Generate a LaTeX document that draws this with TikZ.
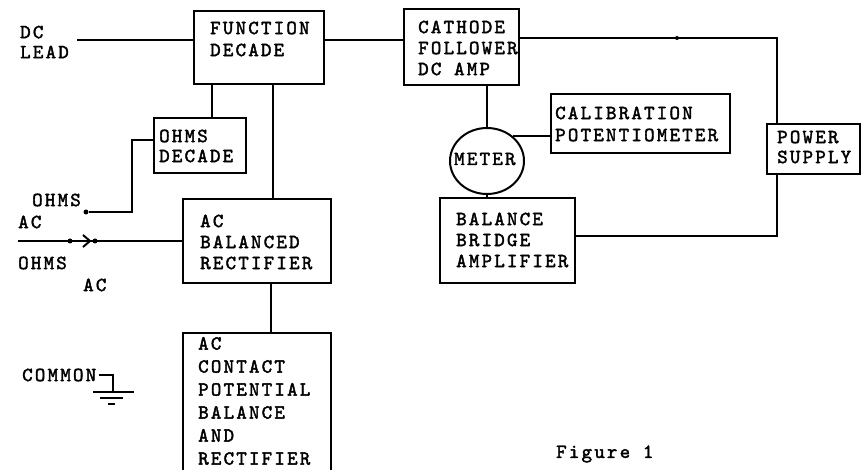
\documentclass[tikz,border=0pt]{standalone}
\usepackage{fontspec}
\usetikzlibrary{shapes.geometric,calc}
\newfontfamily\tw{lmmono10-regular.otf}[LetterSpace=11,FakeBold=2]
\begin{document}
\begin{tikzpicture}[x=1pt,y=-1pt,
  box/.style={draw, line width=2.2pt, rectangle, inner sep=0pt, anchor=north west},
  txt/.style={font={\tw\fontsize{20}{#1}\selectfont}, align=left, anchor=west, inner sep=0pt},
  txt/.default=22,
  wire/.style={line width=2pt},
  dot/.style={circle, fill, inner sep=0pt, minimum size=5pt}]
\clip (0,0) rectangle (863,470);
\fill[white] (0,0) rectangle (863,470);

% boxes
\node[box, minimum width=130, minimum height=73] (fd) at (193,10) {};
\node[box, minimum width=92, minimum height=55] (od) at (153,117) {};
\node[box, minimum width=148, minimum height=84] (acb) at (182,198) {};
\node[box, minimum width=148, minimum height=160] (acc) at (182,332) {};
\node[box, minimum width=115, minimum height=76] (cf) at (403,8) {};
\node[box, minimum width=179, minimum height=59] (cal) at (550,93) {};
\node[box, minimum width=93, minimum height=50] (ps) at (766,123) {};
\node[box, minimum width=135, minimum height=85] (bb) at (439,197) {};
\node[draw, line width=2pt, ellipse, minimum width=74, minimum height=66, inner sep=0pt] (meter) at (487,161) {};

% texts
\node[txt=20] (dct) at (20,42) {DC\\LEAD};
\node[txt] (fdt) at (210,39) {FUNCTION\\DECADE};
\node[txt=20] (odt) at (159,146) {OHMS\\DECADE};
\node[txt] (oh1) at (32,200) {OHMS};
\node[txt] (ac1) at (18,222) {AC};
\node[txt] (oh2) at (18,263) {OHMS};
\node[txt] (ac2) at (83,285) {AC};
\node[txt=21] (acbt) at (200,242) {AC\\BALANCED\\RECTIFIER};
\node[txt=23] (acct) at (198,401) {AC\\CONTACT\\POTENTIAL\\BALANCE\\AND\\RECTIFIER};
\node[txt] (com) at (22,375) {COMMON};
\node[txt=21] (cft) at (418,48) {CATHODE\\FOLLOWER\\DC AMP};
\node[txt] (calt) at (555,124) {CALIBRATION\\POTENTIOMETER};
\node[txt=20] (pst) at (777,147) {POWER\\SUPPLY};
\node[txt=21] (bbt) at (456,240) {BALANCE\\BRIDGE\\AMPLIFIER};
\node[txt] (mt) at (454,159) {METER};
\node[txt] (fig) at (556,454) {Figure 1};

% coordinates
\coordinate (dcin) at (77,40);
\coordinate (acin) at (18,241);
\coordinate (gnd) at (113,392);
\node[dot] (ohsw) at (86,212) {};
\node[dot] (sw1) at (70,241) {};
\node[dot] (sw2) at (95,241) {};
\node[dot, minimum size=4pt] (j1) at (677,38) {};

% connectors
\draw[wire] (dcin) -- (dcin -| fd.west);
\draw[wire] (fd.east |- 0,40) -- (cf.west |- 0,40);
\draw[wire] (fd.south -| 212,0) -- (od.north -| 212,0);
\draw[wire] (fd.south -| 273,0) -- (acb.north -| 273,0);
\draw[wire] (od.west |- 0,140) -| (132,212) -- (ohsw);
\draw[wire] (acin) -- (acb.west |- acin);
\draw[wire] (83,235) -- (90,241) -- (83,247);
\draw[wire] (acb.south -| 271,0) -- (acc.north -| 271,0);
\draw[wire] ($(com.east)+(3,0)$) -| (gnd);
\draw[wire] ($(gnd)+(-20,0)$) -- ($(gnd)+(21,0)$);
\draw[wire] ($(gnd)+(-13,6)$) -- ($(gnd)+(10,6)$);
\draw[wire] ($(gnd)+(-5,12)$) -- ($(gnd)+(2,12)$);
\draw[wire] (cf.south -| meter.north) -- (meter.north);
\draw[wire] (meter.43) -- (cal.west |- meter.43);
\draw[wire] (meter.south) -- (bb.north -| meter.south);
\draw[wire] (cf.east |- 0,38) -| (ps.north -| 777,0);
\draw[wire] (ps.south -| 777,0) |- (bb.east |- 0,236);
\end{tikzpicture}
\end{document}
